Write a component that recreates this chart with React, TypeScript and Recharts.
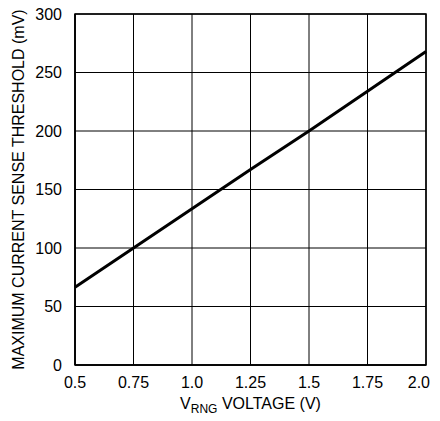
import { LineChart, Line, XAxis, YAxis, CartesianGrid, ReferenceArea } from 'recharts';

const FONT = "'Liberation Sans', Arial, sans-serif";

// V_RNG (V) vs max current sense threshold (mV)
const vrng = [0.5, 0.75, 1.0, 1.25, 1.5, 1.75, 2.0];
const threshold = [66.5, 100, 133.5, 167, 200, 234, 268];

const xTicks = [0.5, 0.75, 1.0, 1.25, 1.5, 1.75, 2.0];
const xTickLabels = ['0.5', '0.75', '1.0', '1.25', '1.5', '1.75', '2.0'];
const yTicks = [0, 50, 100, 150, 200, 250, 300];

const data = vrng.map((v, i) => ({ v, mv: threshold[i] }));

// keeps the last label ("2.0") inside the visible area
function XTick({ x, y, payload, index }: any) {
  const last = index === xTicks.length - 1;
  return (
    <text
      x={last ? Math.min(x + 11, 430) : x}
      y={y}
      dy="0.71em"
      textAnchor={last ? 'end' : 'middle'}
      fontFamily={FONT}
      fontSize={16}
      fill="#000"
    >
      {xTickLabels[xTicks.indexOf(payload.value)] ?? String(payload.value)}
    </text>
  );
}

function XLabel({ viewBox }: any) {
  const cx = viewBox.x + viewBox.width / 2;
  return (
    <text x={cx} y={409} textAnchor="middle" fontFamily={FONT} fontSize={16} fill="#000">
      V<tspan fontSize={12} dy={4}>RNG</tspan>
      <tspan dy={-4}> VOLTAGE (V)</tspan>
    </text>
  );
}

function YLabel({ viewBox }: any) {
  const cy = viewBox.y + viewBox.height / 2;
  return (
    <text
      x={18}
      y={cy}
      transform={`rotate(-90, 18, ${cy})`}
      textAnchor="middle"
      dominantBaseline="central"
      fontFamily={FONT}
      fontSize={16}
      fill="#000"
    >
      MAXIMUM CURRENT SENSE THRESHOLD (mV)
    </text>
  );
}

export default function App() {
  const tick = { fontFamily: FONT, fontSize: 16, fill: '#000' };
  return (
    // negative margin cancels the body margin so the chart fills the window exactly
    <div style={{ margin: -8, width: 440, height: 421 }}>
      <LineChart
        width={440}
        height={421}
        data={data}
        margin={{ top: 14, right: 14, left: 0, bottom: 0 }}
        style={{ background: '#fff' }}
      >
        <CartesianGrid stroke="#000" strokeWidth={1} ticks={yTicks} />
        <XAxis
          dataKey="v"
          type="number"
          domain={[0.5, 2.0]}
          ticks={xTicks}
          tick={<XTick />}
          tickLine={false}
          tickSize={0}
          tickMargin={12}
          axisLine={{ stroke: '#000', strokeWidth: 1.5 }}
          height={56}
          interval={0}
          label={<XLabel />}
        />
        <YAxis
          type="number"
          domain={[0, 300]}
          ticks={yTicks}
          tick={tick}
          tickLine={false}
          tickSize={0}
          tickMargin={13}
          axisLine={{ stroke: '#000', strokeWidth: 1.5 }}
          width={75}
          interval={0}
          label={<YLabel />}
        />
        <ReferenceArea x1={0.5} x2={2.0} y1={0} y2={300} fill="none" stroke="#000" strokeWidth={1.5} ifOverflow="visible" />
        <Line
          dataKey="mv"
          type="linear"
          stroke="#000"
          strokeWidth={3}
          dot={false}
          isAnimationActive={false}
        />
      </LineChart>
    </div>
  );
}
